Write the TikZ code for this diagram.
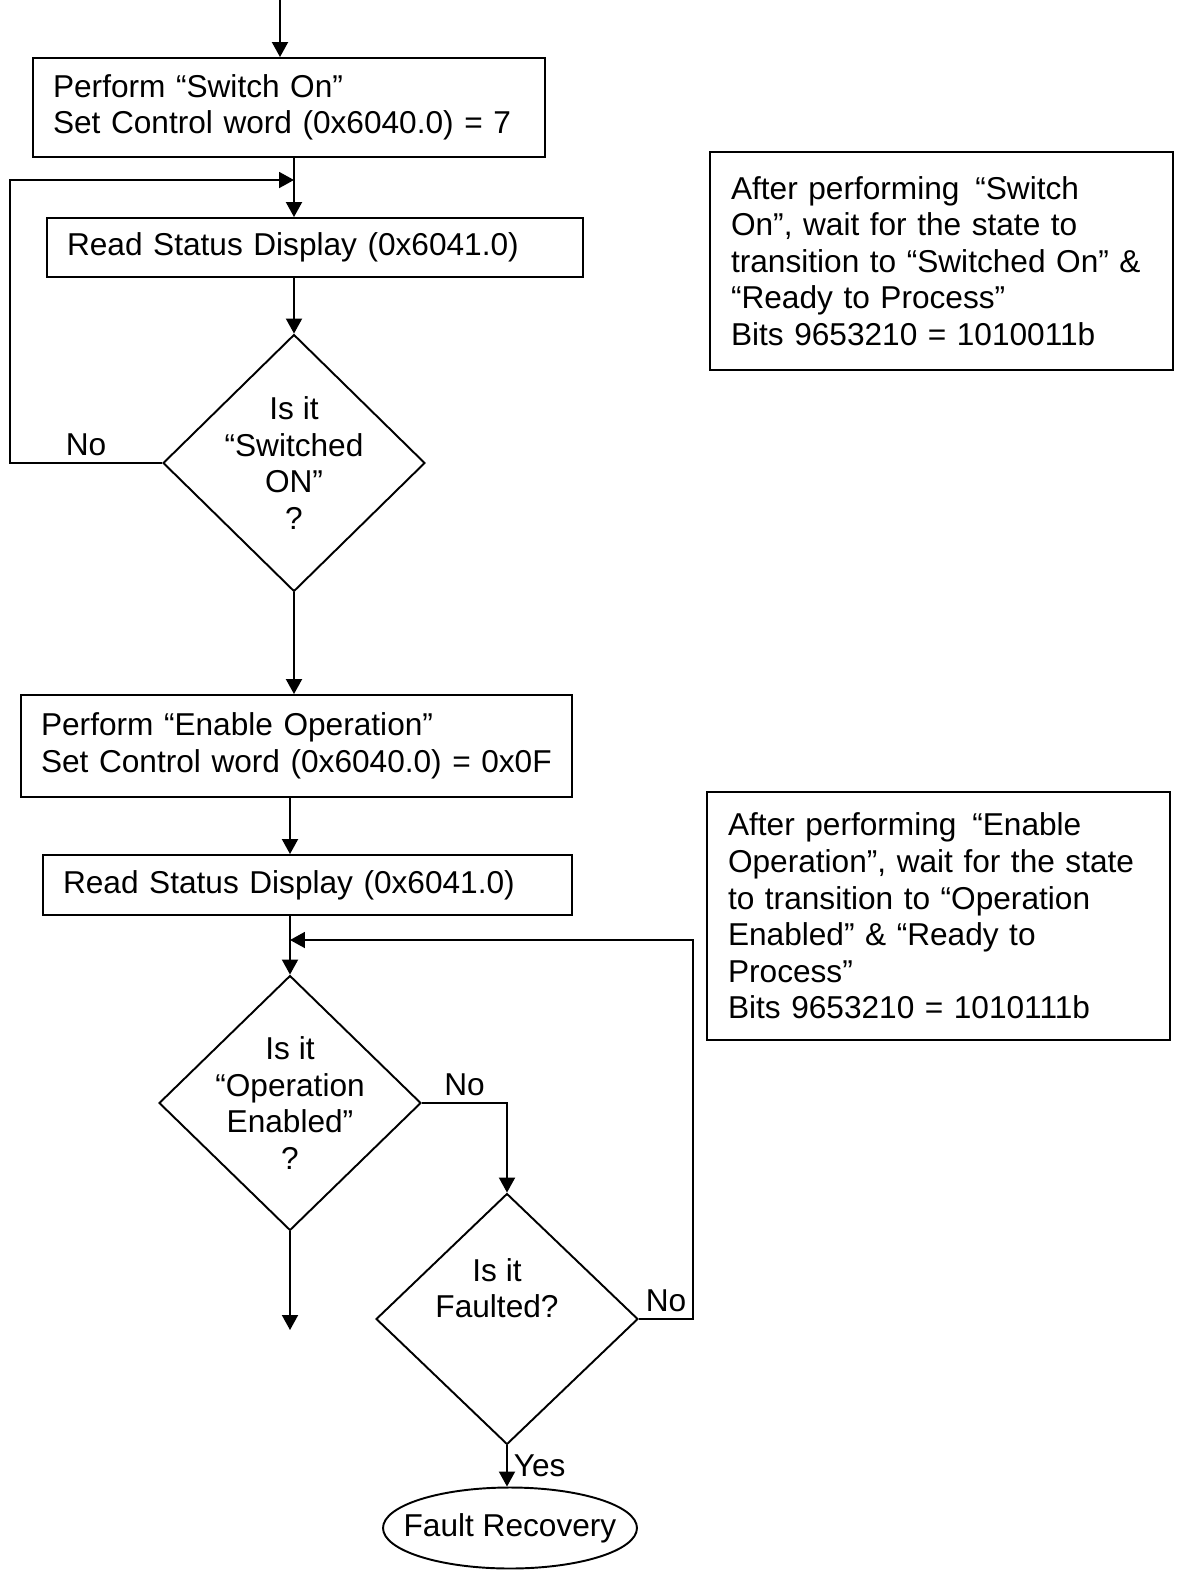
\documentclass[tikz,border=0pt]{standalone}
\usepackage{fontspec}
\setmainfont{Liberation Sans}
\usetikzlibrary{arrows.meta, positioning, shapes.geometric}

\begin{document}
\begin{tikzpicture}[
  x=0.02cm, y=-0.02cm,
  font=\fontsize{18}{20.8}\selectfont,
  line width=1.1pt,
  box/.style={draw, rectangle, align=left, inner xsep=0.4cm, inner ysep=0pt},
  note/.style={draw, rectangle, align=left, inner xsep=0.42cm, inner ysep=0pt,
               minimum width=9.26cm},
  decision/.style={draw, diamond, inner sep=0pt, minimum width=5.24cm},
  dtext/.style={align=center},
  term/.style={draw, ellipse, inner sep=0pt, minimum width=5.08cm,
               minimum height=1.62cm},
  arr/.style={-{Triangle[length=0.3cm, width=0.32cm]}}
]
  \useasboundingbox (0,0) rectangle (1177,1573);

  \node[box, text width=9.44cm, minimum height=1.98cm] (sw1) at (289,107.5)
    {Perform “Switch On”\\Set Control word (0x6040.0) = 7};
  \node[box, text width=9.92cm, minimum height=1.18cm] (rd1) at (315,247.5)
    {Read Status Display (0x6041.0)};
  \node[decision, minimum height=5.14cm,
        label={[dtext]center:{Is it\\“Switched\\ON”\\?}}] (isOn) at (294,463) {};
  \node[box, text width=10.22cm, minimum height=2.04cm] (en) at (296.5,746)
    {Perform “Enable Operation”\\Set Control word (0x6040.0) = 0x0F};
  \node[box, text width=9.78cm, minimum height=1.2cm] (rd2) at (307.5,885)
    {Read Status Display (0x6041.0)};
  \node[decision, minimum height=5.1cm,
        label={[dtext]center:{Is it\\“Operation\\Enabled”\\?}}] (isEn) at (290,1103) {};
  \node[decision, minimum height=5.02cm,
        label={[dtext, xshift=-0.2cm, yshift=0.62cm]center:{Is it\\Faulted?}}] (isFlt) at (507,1319) {};
  \node[term, label={center:Fault Recovery}] (rec) at (510,1528) {};

  \node[note, text width=8.42cm, minimum height=4.36cm] (swNote) at (941.5,261)
    {After performing \,“Switch\\On”, wait for the state to\\transition to “Switched On” \&\\“Ready to Process”\\Bits 9653210 = 1010011b};
  \node[note, text width=8.42cm, minimum height=4.96cm] (enNote) at (938.5,916)
    {After performing \,“Enable\\Operation”, wait for the state\\to transition to “Operation\\Enabled” \& “Ready to\\Process”\\Bits 9653210 = 1010111b};

  \coordinate (top) at (280,0);
  \coordinate (lp1) at (10,180);
  \coordinate (lp2) at (693,940);
  \coordinate (out) at (290,1330);

  \draw[arr] (top) -- (top |- sw1.north);
  \draw[arr] (sw1.south -| isOn.north) -- (rd1.north -| isOn.north);
  \draw[arr] (isOn.west) -| node[above, pos=0.25] {No} (lp1) -- (lp1 -| isOn.north);
  \draw[arr] (rd1.south -| isOn.north) -- (isOn.north);
  \draw[arr] (isOn.south) -- (isOn.south |- en.north);
  \draw[arr] (en.south -| isEn.north) -- (rd2.north -| isEn.north);
  \draw[arr] (rd2.south -| isEn.north) -- (isEn.north);
  \draw[arr] (isEn.south) -- (out);
  \draw[arr] (isEn.east) -| node[above, pos=0.25] {No} (isFlt.north);
  \draw[arr] (isFlt.east) -| node[above, pos=0.25] {No} (lp2) -- (lp2 -| isEn.north);
  \draw[arr] (isFlt.south) -- node[right] {Yes} (isFlt.south |- rec.north);
\end{tikzpicture}
\end{document}
